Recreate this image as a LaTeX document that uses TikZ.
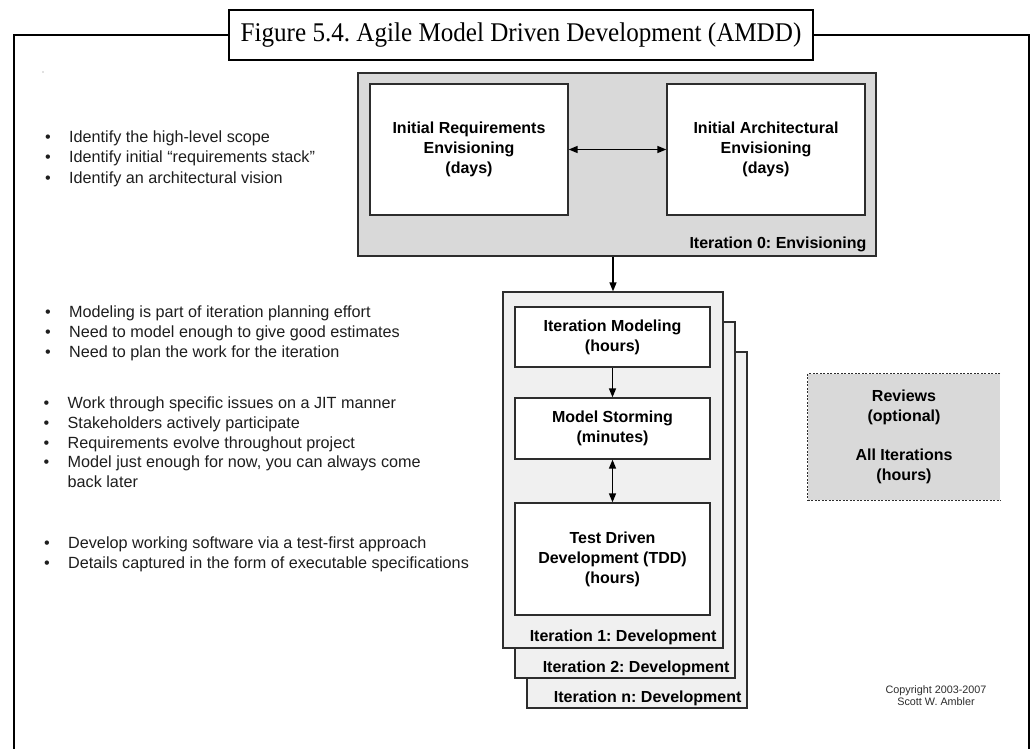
\documentclass[tikz,border=0pt]{standalone}
\usepackage{fontspec}
\setmainfont{Liberation Sans}
\newfontfamily\titlefont{Liberation Serif}
\usetikzlibrary{arrows.meta,positioning}
\definecolor{envGray}{RGB}{217,217,217}
\definecolor{devGray}{RGB}{240,240,240}
\definecolor{lineGray}{RGB}{45,45,45}
\definecolor{textGray}{RGB}{30,30,30}
\frenchspacing
\begin{document}
\begin{tikzpicture}[x=1pt, y=-1pt, >={Triangle[length=9pt, width=7pt]},
  frameStyle/.style={line width=2.5pt},
  titleStyle/.style={rectangle, draw, line width=2.5pt, fill=white, minimum width=584pt, minimum height=50pt, inner sep=0pt, font=\titlefont\fontsize{27}{30}\selectfont},
  envStyle/.style={rectangle, draw=lineGray, line width=1.3pt, fill=envGray, minimum width=518pt, minimum height=183pt},
  devStyle/.style={rectangle, draw=lineGray, line width=1.3pt, fill=devGray, minimum width=220pt, minimum height=356pt},
  taskStyle/.style={rectangle, draw=lineGray, line width=1.3pt, fill=white, inner sep=0pt, align=center, font=\bfseries\fontsize{16}{20}\selectfont},
  phaseStyle/.style={inner sep=0pt, anchor=base east, font=\bfseries\fontsize{16}{20}\selectfont},
  reviewStyle/.style={rectangle, fill=envGray, minimum width=192pt, minimum height=126pt, inner sep=0pt, align=center, font=\bfseries\fontsize{16}{20}\selectfont},
  bulletStyle/.style={inner sep=0pt, anchor=base west, text=textGray, font=\fontsize{16.2}{20}\selectfont},
  copyStyle/.style={inner sep=0pt, align=center, text=lineGray, font=\fontsize{10.8}{12}\selectfont},
  linkStyle/.style={line width=1.5pt, draw=black}]
\fill[white] (0,0) rectangle (1031,749);
\useasboundingbox (0,0) rectangle (1031,749);

\draw[frameStyle] (14,752) -- (14,35) -- (1029,35) -- (1029,752);
\node[titleStyle] (title) at (521,35) {\scalebox{0.93}[1]{Figure 5.4. Agile Model Driven Development (AMDD)}};
\fill[gray] (43,72) circle (0.7);

\node[envStyle] (iter0) at (617,164.5) {};
\node[phaseStyle] (iter0Lbl) at ([shift={(-10,-8)}]iter0.south east) {Iteration 0: Envisioning};
\node[taskStyle, minimum width=198pt, minimum height=131pt] (reqEnv) at (469,149.5) {Initial Requirements\\Envisioning\\(days)};
\node[taskStyle, minimum width=198pt, minimum height=131pt] (archEnv) at (766,149.5) {Initial Architectural\\Envisioning\\(days)};

\node[devStyle] (devN) at (637,530) {};
\node[phaseStyle] (devNLbl) at ([shift={(-6,-6)}]devN.south east) {Iteration n: Development};
\node[devStyle] (dev2) at (625,500) {};
\node[phaseStyle] (dev2Lbl) at ([shift={(-6,-6)}]dev2.south east) {Iteration 2: Development};
\node[devStyle] (dev1) at (613,470) {};
\node[phaseStyle] (dev1Lbl) at ([shift={(-7,-7)}]dev1.south east) {Iteration 1: Development};

\node[taskStyle, minimum width=195pt, minimum height=60pt] (itModel) at (612.5,337) {Iteration Modeling\\(hours)};
\node[taskStyle, minimum width=195pt, minimum height=61pt] (modStorm) at (612.5,428.5) {Model Storming\\(minutes)};
\node[taskStyle, minimum width=195pt, minimum height=112pt] (tdd) at (612.5,559) {Test Driven\\Development (TDD)\\(hours)};

\node[reviewStyle] (reviews) at (904,437) {Reviews\\(optional)\\[19pt]All Iterations\\(hours)};
\draw[lineGray, line width=1.3pt, dash pattern=on 2pt off 1.5pt] (reviews.north east) -- (reviews.north west) -- (reviews.south west) -- (reviews.south east);

\node[copyStyle] (copyright) at (936,696) {Copyright 2003-2007\\Scott W. Ambler};

\node[bulletStyle] (scope1) at (45,143) {\makebox[24pt][l]{•}Identify the high-level scope};
\node[bulletStyle] (scope2) at (45,163) {\makebox[24pt][l]{•}Identify initial “requirements stack”};
\node[bulletStyle] (scope3) at (45,183) {\makebox[24pt][l]{•}Identify an architectural vision};

\node[bulletStyle] (plan1) at (45,317) {\makebox[24pt][l]{•}Modeling is part of iteration planning effort};
\node[bulletStyle] (plan2) at (45,337) {\makebox[24pt][l]{•}Need to model enough to give good estimates};
\node[bulletStyle] (plan3) at (45,357) {\makebox[24pt][l]{•}Need to plan the work for the iteration};

\node[bulletStyle] (storm1) at (43.5,408) {\makebox[24pt][l]{•}Work through specific issues on a JIT manner};
\node[bulletStyle] (storm2) at (43.5,428) {\makebox[24pt][l]{•}Stakeholders actively participate};
\node[bulletStyle] (storm3) at (43.5,448) {\makebox[24pt][l]{•}Requirements evolve throughout project};
\node[bulletStyle] (storm4) at (43.5,467) {\makebox[24pt][l]{•}Model just enough for now, you can always come};
\node[bulletStyle] (storm5) at (67.5,487) {back later};

\node[bulletStyle] (tdd1) at (44,548) {\makebox[24pt][l]{•}Develop working software via a test-first approach};
\node[bulletStyle] (tdd2) at (44,568) {\makebox[24pt][l]{•}Details captured in the form of executable specifications};

\draw[linkStyle, <->] (reqEnv.east) -- (archEnv.west);
\draw[linkStyle, ->] (iter0.south -| dev1.north) -- (dev1.north);
\draw[linkStyle, ->] (itModel) -- (modStorm);
\draw[linkStyle, <->] (modStorm) -- (tdd);
\end{tikzpicture}
\end{document}
